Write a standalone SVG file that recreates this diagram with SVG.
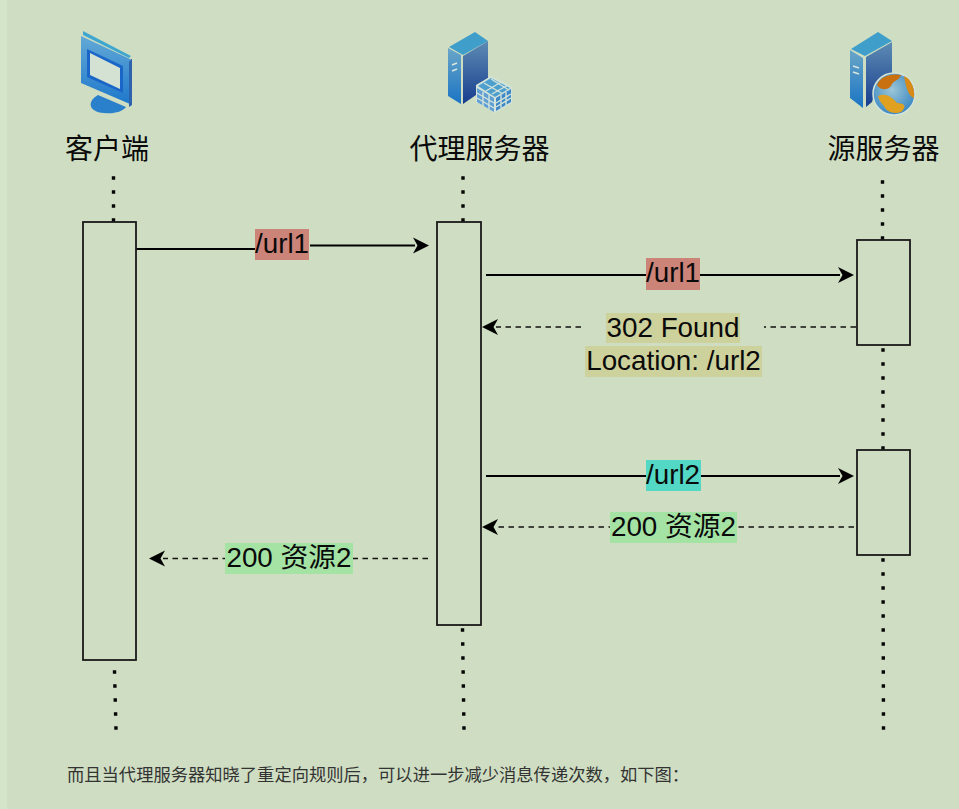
<svg xmlns="http://www.w3.org/2000/svg" width="959" height="809" viewBox="0 0 959 809">
<style>
.bg{fill:#cfdec2}
.box{fill:none;stroke:#1a1a1a;stroke-width:1.8}
.life{fill:none;stroke:#050505;stroke-width:3.4;stroke-dasharray:3.4 10.6}
.msg{fill:none;stroke:#000;stroke-width:1.8}
.ret{fill:none;stroke:#111;stroke-width:1.4;stroke-dasharray:5.5 4.5}
.t{font-family:"Liberation Sans","Noto Sans CJK SC",sans-serif;font-size:27.8px;fill:#0a0a0a;text-anchor:middle}
.title{font-family:"Noto Sans CJK SC","Liberation Sans",sans-serif;font-size:28px;fill:#0a0a0a;text-anchor:middle}
.cap{font-family:"Noto Sans CJK SC",sans-serif;font-size:17.3px;fill:#333}
.head{fill:#000}
</style>
<defs>
<linearGradient id="srv" x1="0" y1="0" x2="0" y2="1"><stop offset="0" stop-color="#6aa6c8"/><stop offset="1" stop-color="#1a74c4"/></linearGradient>
<linearGradient id="srvd" x1="0" y1="0" x2="0" y2="1"><stop offset="0" stop-color="#5d8cb4"/><stop offset="1" stop-color="#173d8e"/></linearGradient>
<linearGradient id="mon" x1="0" y1="0" x2="0" y2="1"><stop offset="0" stop-color="#63a9d6"/><stop offset="1" stop-color="#1f78cc"/></linearGradient>
<radialGradient id="globe" cx="0.45" cy="0.4" r="0.7"><stop offset="0" stop-color="#9cc6d6"/><stop offset="1" stop-color="#2c7fc0"/></radialGradient>
<path id="ah" d="M0 0L-16 -8L-11.500 0L-16 8Z"/>
</defs>
<rect class="bg" width="959" height="809"/>
<rect x="0" y="0" width="7" height="809" fill="#d5e5ca"/>

<g id="connectors">
<path class="life" d="M113.500 176.300V222"/>
<path class="life" d="M114.500 670.300L116 730"/>
<path class="life" d="M463 176.300V222"/>
<path class="life" d="M462.500 628.300L464 730"/>
<path class="life" d="M882.500 180.300V240"/>
<path class="life" d="M883 348.300V450"/>
<path class="life" d="M883 558.300L883.500 730"/>
<path class="msg" d="M136 249H255M310 245.500H415"/>
<use href="#ah" class="head" transform="translate(429 245.500)"/>
<path class="msg" d="M486 275H840"/>
<use href="#ah" class="head" transform="translate(854 275)"/>
<path class="ret" d="M856 327H764M581 327H496"/>
<use href="#ah" class="head" transform="translate(482 327) rotate(180)"/>
<path class="msg" d="M486 476H840"/>
<use href="#ah" class="head" transform="translate(854 476)"/>
<path class="ret" d="M854 527H496"/>
<use href="#ah" class="head" transform="translate(482 527) rotate(180)"/>
<path class="ret" d="M428 558.500H163"/>
<use href="#ah" class="head" transform="translate(149 558.500) rotate(180)"/>
</g>

<g id="client">
<path d="M83 31L131 56L129 58L83 35Z" fill="#3fa6cf"/>
<path d="M81 36L130 59V104L81 83Z" fill="url(#mon)"/>
<path d="M87 49L123 66V93L87 77Z" fill="#1a66c8"/>
<path d="M90 53L120 68V89L90 75Z" fill="#d3e2d2"/>
<path d="M131 59L132 59V105L129 107V62Z" fill="#2e62ad"/>
<path d="M98 95C87 101 88 112 104 113C114 114 122 112 126 107Z" fill="#2b80cc"/>
<rect x="83" y="222" width="53" height="438" class="box"/>
<text class="title" x="107" y="159">客户端</text>
</g>

<g id="proxy">
<path d="M449 47L475 32L488 41L463 55Z" fill="#3f9fca"/>
<path d="M448 48L461 55V104L448 96Z" fill="url(#srv)"/>
<path d="M463 56L488 41V90L476 90V95L463 104Z" fill="url(#srvd)"/>
<path d="M452 65L457 63M452 71L457 69" stroke="#d8e6e0" stroke-width="1.500"/>
<path d="M476 85L491 76L512 87V103L495 113L476 102Z" fill="#d4e4da"/>
<path d="M478 86L491 78L510 88L495 97Z" fill="#4d9fce"/>
<path d="M477 88L494 98V112L477 102Z" fill="#5f9fd4"/>
<path d="M496 98L511 89V102L496 111Z" fill="#3d88c6"/>
<path d="M483 92V106M489 95V109M477 93L494 103M477 98L494 108M501 95V108M506 92V105M496 103L511 94M496 107L511 98M484 83L503 94M491 79L509 90M486 91L503 81M492 94L508 85" stroke="#d4e4da" stroke-width="1.400" fill="none"/>
<rect x="437" y="222" width="44" height="403" class="box"/>
<text class="title" x="479.500" y="159">代理服务器</text>
</g>

<g id="origin">
<path d="M851 49L878 32L892 41L865 56Z" fill="#3f9fca"/>
<path d="M850 50L863 58V108L850 98Z" fill="url(#srv)"/>
<path d="M866 57L892 42V78L876 88L872 102L866 107Z" fill="url(#srvd)"/>
<path d="M853 66L859 68M853 72L859 74" stroke="#d8e6e0" stroke-width="1.500"/>
<circle cx="894" cy="94" r="21" fill="url(#globe)" stroke="#d4e4da" stroke-width="1.500"/>
<path d="M877 85C880 76 892 73 901 75C899 81 893 80 891 86C887 91 880 90 877 85Z" fill="#c9700f"/>
<path d="M904 76C912 79 915 90 914 98C909 97 906 88 904 76Z" fill="#d98a16"/>
<path d="M878 96C886 92 893 98 897 103C905 103 907 107 901 112C895 114 887 113 884 106C881 103 879 100 878 96Z" fill="#e0a020"/>
<rect x="857" y="240" width="53" height="105" class="box"/>
<rect x="857" y="450" width="53" height="105" class="box"/>
<text class="title" x="883.500" y="159">源服务器</text>
</g>

<g id="labels">
<rect x="255" y="229" width="54" height="31" fill="#cc8378"/>
<text class="t" x="282" y="253">/url1</text>
<rect x="646" y="258" width="54" height="32" fill="#cc8378"/>
<text class="t" x="673" y="282">/url1</text>
<rect x="606" y="313" width="134" height="30" fill="#cdd19c"/>
<text class="t" x="673" y="337">302 Found</text>
<rect x="585" y="346" width="177" height="31" fill="#cdd19c"/>
<text class="t" x="673.500" y="370">Location: /url2</text>
<rect x="646" y="460" width="55" height="31" fill="#52d8c4"/>
<text class="t" x="673" y="484">/url2</text>
<rect x="610" y="512" width="127" height="31" fill="#a5e3a5"/>
<text class="t" x="673.500" y="536">200 资源2</text>
<rect x="225" y="543" width="128" height="31" fill="#a5e3a5"/>
<text class="t" x="289" y="567">200 资源2</text>
</g>

<text class="cap" x="67" y="781">而且当代理服务器知晓了重定向规则后，可以进一步减少消息传递次数，如下图：</text>
</svg>
